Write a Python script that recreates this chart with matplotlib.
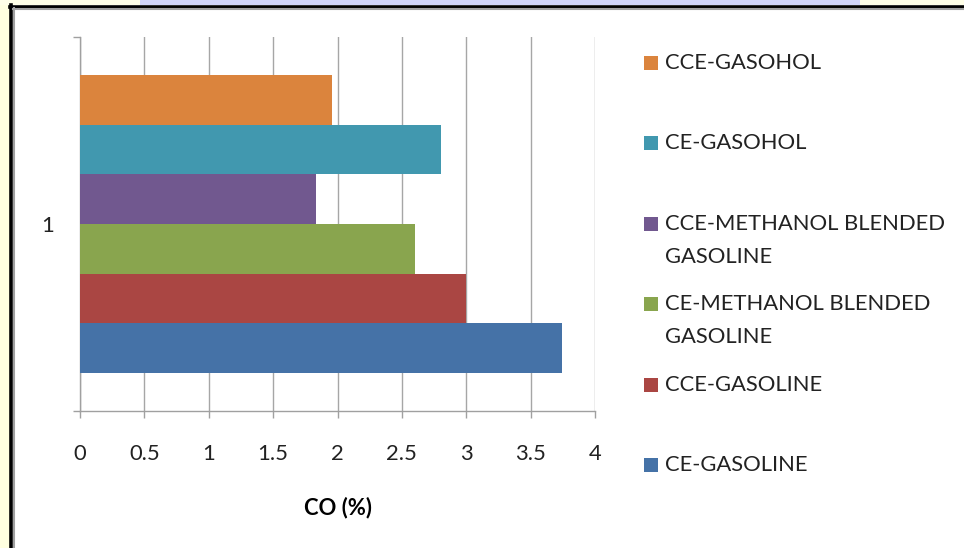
import numpy as np
import matplotlib
matplotlib.use("Agg")
import matplotlib.pyplot as plt
from matplotlib.patches import Rectangle

# series, bottom bar first
series = ["CE-GASOLINE", "CCE-GASOLINE", "CE-METHANOL BLENDED\nGASOLINE",
          "CCE-METHANOL BLENDED\nGASOLINE", "CE-GASOHOL", "CCE-GASOHOL"]
co_values = [3.74, 3.0, 2.6, 1.83, 2.8, 1.96]
colors = ["#4572A7", "#AA4643", "#89A54E", "#71588F", "#4198AF", "#DB843D"]
category = [1]
x_ticks = [0, 0.5, 1, 1.5, 2, 2.5, 3, 3.5, 4]
x_labels = ["0", "0.5", "1", "1.5", "2", "2.5", "3", "3.5", "4"]

plt.rcParams["font.family"] = ["Lato", "DejaVu Sans"]
FS = 15.8

W, H = 964, 548
fig = plt.figure(figsize=(W / 100, H / 100), dpi=100)
fig.patch.set_facecolor("white")

def px(x, y):
    return x / W, 1 - y / H

# screenshot surroundings and frame
fig.patches.append(Rectangle((0, 0), 10 / W, 1, transform=fig.transFigure,
                             facecolor="#FFFFE0", edgecolor="none", zorder=0))
fig.patches.append(Rectangle((0, 1 - 5 / H), 1, 5 / H, transform=fig.transFigure,
                             facecolor="#FFFFE8", edgecolor="none", zorder=0))
fig.patches.append(Rectangle((140 / W, 1 - 5 / H), 720 / W, 5 / H, transform=fig.transFigure,
                             facecolor="#D0D4F8", edgecolor="none", zorder=0))
fig.add_artist(plt.Line2D([10.5 / W, 10.5 / W], [0, 1 - 5 / H], color="black", lw=2.6,
                          transform=fig.transFigure))
fig.add_artist(plt.Line2D([10 / W, 1], [1 - 6.5 / H, 1 - 6.5 / H], color="black", lw=2.6,
                          transform=fig.transFigure))
fig.add_artist(plt.Line2D([13.5 / W, 13.5 / W], [0, 1 - 8 / H], color="#A0A0A0", lw=1.5,
                          transform=fig.transFigure))
fig.add_artist(plt.Line2D([13 / W, 1], [1 - 8.5 / H, 1 - 8.5 / H], color="#A0A0A0", lw=1.5,
                          transform=fig.transFigure))

ax = fig.add_axes([80 / W, (H - 411) / H, 515 / W, 374 / H])
ax.set_facecolor("white")

n = len(series)
h = 0.1324
offsets = (np.arange(n) - (n - 1) / 2) * h
for i in range(n):
    ax.barh(category[0] + offsets[i], co_values[i], height=h, color=colors[i],
            edgecolor="none", zorder=3)

ax.set_xlim(0, 4)
ax.set_ylim(0.5, 1.5)
ax.set_xticks(x_ticks)
ax.set_xticklabels(x_labels, fontsize=FS, color="#222222")
ax.set_yticks(category)
ax.set_yticklabels([str(c) for c in category], fontsize=FS, color="#222222")
ax.set_yticks([0.5, 1.5], minor=True)
ax.tick_params(axis="y", which="major", length=0, pad=19)
ax.tick_params(axis="y", which="minor", length=5, color="#A0A0A0", width=1)
ax.tick_params(axis="x", which="major", length=5, color="#A0A0A0", width=1, pad=19)
ax.grid(axis="x", color="#A6A6A6", lw=1, zorder=0)
for s in ["top", "right"]:
    ax.spines[s].set_visible(False)
for s in ["left", "bottom"]:
    ax.spines[s].set_color("#A0A0A0")
    ax.spines[s].set_linewidth(1)
ax.set_xlabel("CO (%)", fontsize=FS, fontweight="bold", labelpad=23)

# legend, top entry first
leg_y0, leg_step, line_step = 63, 80.4, 33
for k, i in enumerate(range(n - 1, -1, -1)):
    yc = leg_y0 + k * leg_step
    fig.patches.append(Rectangle(px(644, yc + 7), 14 / W, 14 / H, transform=fig.transFigure,
                                 facecolor=colors[i], edgecolor="none"))
    for j, line in enumerate(series[i].split("\n")):
        fx, fy = px(665, yc + j * line_step)
        fig.text(fx, fy, line, fontsize=FS, color="#222222", va="center", ha="left")

fig.savefig("out.png", dpi=100)
